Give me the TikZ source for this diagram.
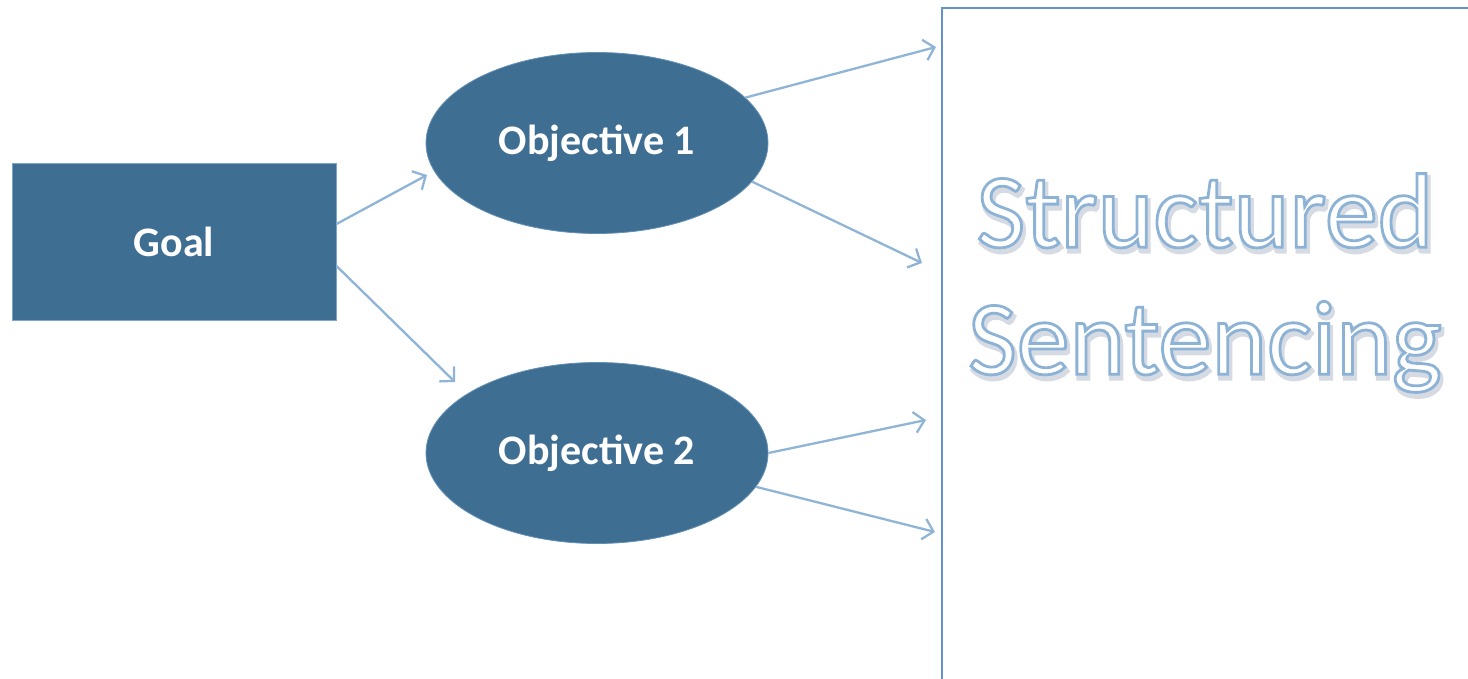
\documentclass[tikz,border=0pt]{standalone}
\usepackage{fontspec}
\setmainfont{Carlito}
\usetikzlibrary{shapes.geometric,arrows.meta}
\definecolor{boxfill}{HTML}{3F6E93}
\definecolor{boxline}{HTML}{7BA7CF}
\definecolor{arrcol}{HTML}{8FB4D6}
\definecolor{frameline}{HTML}{6394C4}
\definecolor{shad}{HTML}{D6DCE3}
\newcommand{\outlinetext}[1]{\special{pdf:literal direct 2 Tr 2.8 w 0.55 0.70 0.84 RG}#1\special{pdf:literal direct 0 Tr}}
\newcommand{\shadowtext}[1]{\special{pdf:literal direct 2 Tr 5 w 0.84 0.86 0.89 RG}#1\special{pdf:literal direct 0 Tr}}
\tikzset{
  x=1pt, y=-1pt,
  darkrect/.style={rectangle, fill=boxfill, draw=boxline, line width=1pt, minimum width=324pt, minimum height=156pt, inner sep=0pt, text=white, font=\fontsize{42}{48}\selectfont\bfseries},
  darkell/.style={ellipse, fill=boxfill, draw=boxline!60!boxfill, line width=0.8pt, minimum width=342pt, minimum height=181pt, inner sep=0pt, text=white, font=\fontsize{42}{48}\selectfont\bfseries},
  arr/.style={draw=arrcol, line width=2.3pt, -{Straight Barb[length=10pt,width=21pt,line width=2.3pt]}},
  titletext/.style={align=center, font=\fontsize{106}{127}\selectfont, inner sep=0pt},
}
\begin{document}
\begin{tikzpicture}
\useasboundingbox (0,0) rectangle (1468,679);
% right frame
\draw[frameline, line width=1.6pt] (942,690) -- (942,8) -- (1480,8);
% title text: soft shadow, then outlined text
\node (titleshadow) [titletext, text=shad] at (1207,287)
  {\shadowtext{Structured}\\\shadowtext{Sentencing}};
\node (title) [titletext, text=white] at (1205,283)
  {\outlinetext{Structured}\\\outlinetext{Sentencing}};
% nodes
\node (goal) [darkrect] at (174,242) {Goal};
\node (obj1) [darkell] at (597,143) {Objective 1};
\node (obj2) [darkell] at (597,453) {Objective 2};
% free ends
\coordinate (g1) at (427,175);
\coordinate (g2) at (455,382);
\coordinate (t1) at (936,47);
\coordinate (t2) at (922,263);
\coordinate (t3) at (926,420);
\coordinate (t4) at (935,532);
% connectors
\draw[arr] ([yshift=18pt]goal.east) -- (g1);
\draw[arr] ([yshift=-24pt]goal.east) -- (g2);
\draw[arr] (obj1.17) -- (t1);
\draw[arr] (obj1.-14) -- (t2);
\draw[arr] (obj2.0) -- (t3);
\draw[arr] (obj2.-12) -- (t4);
\end{tikzpicture}
\end{document}
